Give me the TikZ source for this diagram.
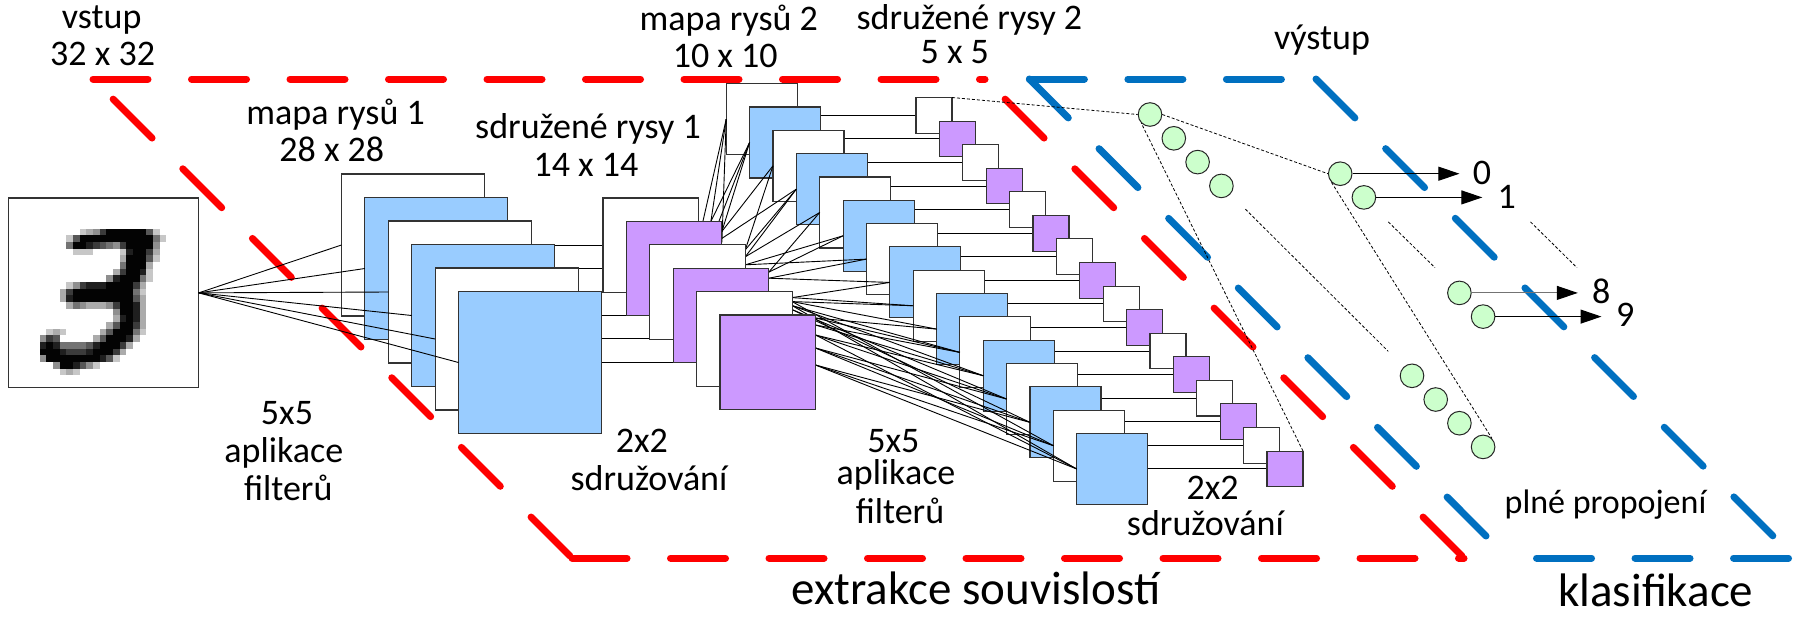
\documentclass[tikz,border=0pt]{standalone}
\usepackage{fontspec}
\setmainfont{Carlito}
\usetikzlibrary{arrows.meta,calc}
\pgfdeclarelayer{frame}
\pgfdeclarelayer{bg}
\pgfdeclarelayer{fg}
\pgfsetlayers{frame,bg,main,fg}
\definecolor{lblue}{RGB}{153,204,255}
\definecolor{lpurple}{RGB}{204,153,255}
\definecolor{lgreen}{RGB}{204,255,204}
\definecolor{fred}{RGB}{255,0,0}
\definecolor{fblue}{RGB}{0,112,192}
\begin{document}
\begin{tikzpicture}[x=1pt,y=-1pt,
  box/.style={draw=black!80,line width=1.1pt,inner sep=0pt,outer sep=0pt,anchor=north west},
  conn/.style={draw=black,line width=0.9pt},
  thin dash/.style={draw=black,line width=0.8pt,dash pattern=on 3pt off 2pt},
  neuron/.style={circle,draw=black!85,fill=lgreen,line width=1pt,minimum size=23.6pt,inner sep=0pt},
  lbl/.style={font=\fontsize{36pt}{40pt}\selectfont,anchor=base,inner sep=0pt},
  lblsm/.style={font=\fontsize{34pt}{38pt}\selectfont,anchor=base,inner sep=0pt},
  big/.style={font=\fontsize{47pt}{52pt}\selectfont,anchor=base,inner sep=0pt},
  redside/.style={draw=fred,line width=7pt,line cap=round,dash pattern=on 55pt off 43.5pt},
  blueside/.style={draw=fblue,line width=7pt,line cap=round,dash pattern=on 55pt off 43.5pt},
  outarrow/.style={line width=1.1pt,-{Triangle[length=21pt,width=14pt,black]}}
]
\useasboundingbox (0,0) rectangle (1806,619);

% ---------- frames ----------
\begin{pgfonlayer}{frame}
\fill[white] (0,0) rectangle (1806,619);
\coordinate (RA) at (93,79);
\coordinate (RB) at (985,79);
\coordinate (RC) at (1464,558);
\coordinate (RD) at (572,558);
\draw[redside] (RA) -- (RB);
\draw[redside] (RD) -- (RC);
\draw[redside,dash phase=70pt] (RA) -- (RD);
\draw[redside,dash phase=70pt] (RB) -- (RC);
\coordinate (BA) at (1029.4,79);
\coordinate (BB) at (1316,79);
\coordinate (BC) at (1795,558);
\coordinate (BD) at (1508,558);
\draw[blueside] (BA) -- (BB);
\draw[blueside] (BA) -- (BD);
\draw[blueside] (BB) -- (BC);
\draw[blueside,dash phase=70pt] (BD) -- (BC);
\end{pgfonlayer}

% ---------- input image ----------
\node[box,fill=white,minimum width=190pt,minimum height=189.7pt] (in) at (8.7,198) {};
\foreach \r/\c/\v in {
4/10/2,4/11/3,4/12/4,4/13/7,4/14/9,4/15/9,4/16/9,4/17/9,4/18/9,4/19/9,4/20/6,4/21/2,
5/8/2,5/9/6,5/10/9,5/11/9,5/12/9,5/13/9,5/14/9,5/15/9,5/16/9,5/17/9,5/18/9,5/19/9,5/20/9,5/21/5,5/22/2,
6/8/5,6/9/9,6/10/9,6/11/8,6/12/7,6/13/6,6/14/5,6/15/4,6/16/7,6/17/9,6/18/9,6/19/9,6/20/9,6/21/4,
7/9/2,7/10/2,7/11/2,7/16/2,7/17/8,7/18/9,7/19/9,7/20/7,7/21/3,
8/16/3,8/17/9,8/18/9,8/19/9,8/20/6,8/21/2,
9/16/5,9/17/9,9/18/9,9/19/9,9/20/3,
10/15/3,10/16/7,10/17/9,10/18/9,10/19/8,10/20/2,
11/14/4,11/15/8,11/16/9,11/17/9,11/18/9,11/19/5,11/20/2,
12/8/2,12/9/4,12/10/7,12/11/8,12/12/8,12/13/8,12/14/9,12/15/9,12/16/9,12/17/9,12/18/7,12/19/3,
13/7/3,13/8/7,13/9/9,13/10/9,13/11/9,13/12/9,13/13/9,13/14/9,13/15/9,13/16/9,13/17/9,13/18/5,13/19/2,
14/7/3,14/8/8,14/9/9,14/10/9,14/11/9,14/12/9,14/13/9,14/14/9,14/15/9,14/16/9,14/17/9,14/18/6,14/19/3,
15/8/3,15/9/5,15/10/4,15/11/3,15/12/3,15/13/3,15/14/4,15/15/7,15/16/9,15/17/9,15/18/8,15/19/3,
16/15/4,16/16/9,16/17/9,16/18/8,16/19/3,
17/15/3,17/16/8,17/17/9,17/18/8,17/19/3,
18/14/3,18/15/6,18/16/9,18/17/9,18/18/7,18/19/3,
19/5/2,19/6/3,19/7/2,19/13/3,19/14/6,19/15/9,19/16/9,19/17/9,19/18/5,19/19/2,
20/4/4,20/5/7,20/6/6,20/12/3,20/13/6,20/14/9,20/15/9,20/16/9,20/17/8,20/18/3,
21/4/8,21/5/9,21/6/8,21/7/5,21/8/5,21/9/5,21/10/5,21/11/6,21/12/8,21/13/9,21/14/9,21/15/9,21/16/7,21/17/3,
22/4/9,22/5/9,22/6/9,22/7/8,22/8/7,22/9/7,22/10/7,22/11/8,22/12/9,22/13/9,22/14/9,22/15/7,22/16/3,
23/4/4,23/5/9,23/6/9,23/7/9,23/8/9,23/9/9,23/10/9,23/11/9,23/12/9,23/13/8,23/14/6,23/15/2,
24/6/4,24/7/9,24/8/9,24/9/8,24/10/6,24/11/4,24/12/2,
25/7/2,25/8/3,25/9/2}{
  \pgfmathtruncatemacro\p{\v*11}
  \fill[black!\p] ({13+6.667*\c},{202+6.667*\r}) rectangle +(6.75,6.75);
}

% ---------- feature map 1 ----------
\foreach \k in {1,...,6}{
  \pgfmathsetmacro\xx{341.5+23.4*(\k-1)}
  \pgfmathsetmacro\yy{174+23.5*(\k-1)}
  \ifodd\k\relax\def\fc{white}\else\def\fc{lblue}\fi
  \node[box,fill=\fc,minimum width=143pt,minimum height=142pt] (f\k) at (\xx,\yy) {};
}
\foreach \k in {1,...,6}{\draw[conn] (in.east) -- (f\k.west);}

% ---------- pooled 1 (on top layer) ----------
\begin{pgfonlayer}{fg}
\foreach \k in {1,...,6}{
  \pgfmathsetmacro\xx{603+23.4*(\k-1)}
  \pgfmathsetmacro\yy{198+23.4*(\k-1)}
  \ifodd\k\relax\def\fc{white}\else\def\fc{lpurple}\fi
  \node[box,fill=\fc,minimum width=95.5pt,minimum height=94.5pt] (q\k) at (\xx,\yy) {};
}
\end{pgfonlayer}

% ---------- feature map 2 ----------
\foreach \k in {1,...,16}{
  \pgfmathsetmacro\xx{726.2+23.37*(\k-1)}
  \pgfmathsetmacro\yy{83.7+23.32*(\k-1)}
  \ifodd\k\relax\def\fc{white}\else\def\fc{lblue}\fi
  \node[box,fill=\fc,minimum width=71pt,minimum height=71pt] (m\k) at (\xx,\yy) {};
}

% ---------- pooled 2 ----------
\foreach \k in {1,...,16}{
  \pgfmathsetmacro\xx{916+23.4*(\k-1)}
  \pgfmathsetmacro\yy{97.5+23.57*(\k-1)}
  \ifodd\k\relax\def\fc{white}\else\def\fc{lpurple}\fi
  \node[box,fill=\fc,minimum width=36pt,minimum height=35.7pt] (s\k) at (\xx,\yy) {};
}

% ---------- horizontal links (behind boxes) ----------
\begin{pgfonlayer}{bg}
\foreach \k in {1,...,6}{\draw[conn] (q\k.west) -- (q\k.west -| f\k.east);}
\foreach \k in {1,...,16}{\draw[conn] (s\k.west) -- (s\k.west -| m\k.east);}
\end{pgfonlayer}

% ---------- fan pooled 1 -> map 2 ----------
\coordinate (A1) at ($(q2.north east)+(-19,0)$);
\coordinate (A2) at ($(q2.north east)+(-11,0)$);
\coordinate (A3) at ($(q2.north east)+(-3,0)$);
\coordinate (A4) at ($(q2.north east)+(0,10)$);
\coordinate (A5) at ($(q2.north east)+(0,17)$);
\coordinate (A6) at ($(q2.north east)+(0,21)$);
\coordinate (B1) at ($(q3.north east)+(0,5)$);
\coordinate (B2) at ($(q3.north east)+(0,12)$);
\coordinate (B3) at ($(q3.north east)+(0,20)$);
\coordinate (C1) at ($(q4.north east)+(0,4)$);
\coordinate (C2) at ($(q4.north east)+(0,10)$);
\coordinate (D1) at ($(q5.north east)+(0,6)$);
\coordinate (D2) at ($(q5.north east)+(0,10)$);
\coordinate (D3) at ($(q5.north east)+(0,14)$);
\coordinate (D4) at ($(q5.north east)+(0,18)$);
\coordinate (E1) at ($(q6.north east)+(0,3)$);
\coordinate (E2) at ($(q6.north east)+(0,10)$);
\coordinate (E3) at ($(q6.north east)+(0,20)$);
\coordinate (E4) at ($(q6.north east)+(0,33)$);
\coordinate (E5) at ($(q6.north east)+(0,50)$);
\foreach \s/\t in {A1/1,A2/1,A6/1,A2/2,A3/2,A4/2,A4/3,B1/3,A5/4,B1/4,B2/4,
  B2/5,C1/5,B3/6,C1/6,B3/7,C2/7,C2/8,D1/8,D1/9,D2/9,D2/10,E1/10,
  D3/11,E1/11,E2/11,D3/12,E2/12,E3/12,D4/13,E3/13,E4/13,D4/14,E4/14,E5/14,
  E4/15,E5/15,D2/15,E5/16,E3/16,D3/16}{
  \draw[conn] (\s) -- (m\t.west);
}

% ---------- neurons ----------
\node[neuron] (h1) at (1150,114.5) {};
\node[neuron] (h2) at (1173.8,138.3) {};
\node[neuron] (h3) at (1197.6,162.1) {};
\node[neuron] (h4) at (1221.4,185.9) {};
\node[neuron] (h5) at (1412,375.8) {};
\node[neuron] (h6) at (1435.7,399.5) {};
\node[neuron] (h7) at (1459.4,423.2) {};
\node[neuron] (h8) at (1483.1,446.9) {};
\node[neuron] (o0) at (1340.2,173.7) {};
\node[neuron] (o1) at (1363.9,197.4) {};
\node[neuron] (o8) at (1459.4,292.9) {};
\node[neuron] (o9) at (1483.1,316.6) {};

\draw[thin dash] (s1.north east) -- (h1.west);
\draw[thin dash] (s16.north east) -- (h1.south west);
\draw[thin dash] (h1.east) -- (o0.west);
\draw[thin dash] (o0.south west) -- (h8.north east);
\coordinate (d1a) at (1245.4,209.2); \coordinate (d1b) at (1388.3,351.4);
\coordinate (d2a) at (1388.3,221.9); \coordinate (d2b) at (1435,267.7);
\coordinate (d3a) at (1530.5,221.9); \coordinate (d3b) at (1577,267.7);
\draw[thin dash] (d1a) -- (d1b);
\draw[thin dash] (d2a) -- (d2b);
\draw[thin dash] (d3a) -- (d3b);

\coordinate (e0) at (1459.4,173.7);
\coordinate (e1) at (1482.3,197.4);
\coordinate (e8) at (1577.8,292.9);
\coordinate (e9) at (1601.5,316.6);
\draw[outarrow,draw=black] (o0.east) -- (e0);
\draw[outarrow,draw=black] (o1.east) -- (e1);
\draw[outarrow,draw=black!55] (o8.east) -- (e8);
\draw[outarrow,draw=black] (o9.east) -- (e9);

% ---------- texts ----------
\node[lbl] (t1) at (101.7,28.4) {vstup};
\node[lbl] (t2) at (102.6,65.1) {32 x 32};
\node[lbl] (t3) at (335.6,124.4) {mapa rysů 1};
\node[lbl] (t4) at (331.8,161.9) {28 x 28};
\node[lbl] (t5) at (588,138.2) {sdružené rysy 1};
\node[lbl] (t6) at (586,176.9) {14 x 14};
\node[lbl] (t7) at (728.8,30.8) {mapa rysů 2};
\node[lbl] (t8) at (725.2,67.1) {10 x 10};
\node[lbl] (t9) at (969.4,29.6) {sdružené rysy 2};
\node[lbl] (t10) at (954.8,63.2) {5 x 5};
\node[lbl] (t11) at (1322,49.3) {výstup};
\node[lbl] (t12) at (287,424.4) {5x5};
\node[lbl] (t13) at (283.9,462.7) {aplikace};
\node[lbl] (t14) at (288.2,500.6) {filterů};
\node[lbl] (t15) at (641.9,452) {2x2};
\node[lbl] (t16) at (649,490.7) {sdružování};
\node[lbl] (t17) at (893.4,452) {5x5};
\node[lbl] (t18) at (896,484.8) {aplikace};
\node[lbl] (t19) at (900,523.1) {filterů};
\node[lbl] (t20) at (1212.6,499.4) {2x2};
\node[lbl] (t21) at (1205.4,535.7) {sdružování};
\node[lblsm] (t22) at (1605.5,513.2) {plné propojení};
\node[big] (t23) at (975.9,604) {extrakce souvislostí};
\node[big] (t24) at (1655.8,606) {klasifikace};
\node[lbl] (n0) at (1482.1,184.8) {0};
\node[lbl] (n1) at (1506.8,208.4) {1};
\node[lbl] (n8) at (1601.1,303.2) {8};
\node[lbl] (n9) at (1625.2,326.9) {9};
\end{tikzpicture}
\end{document}
